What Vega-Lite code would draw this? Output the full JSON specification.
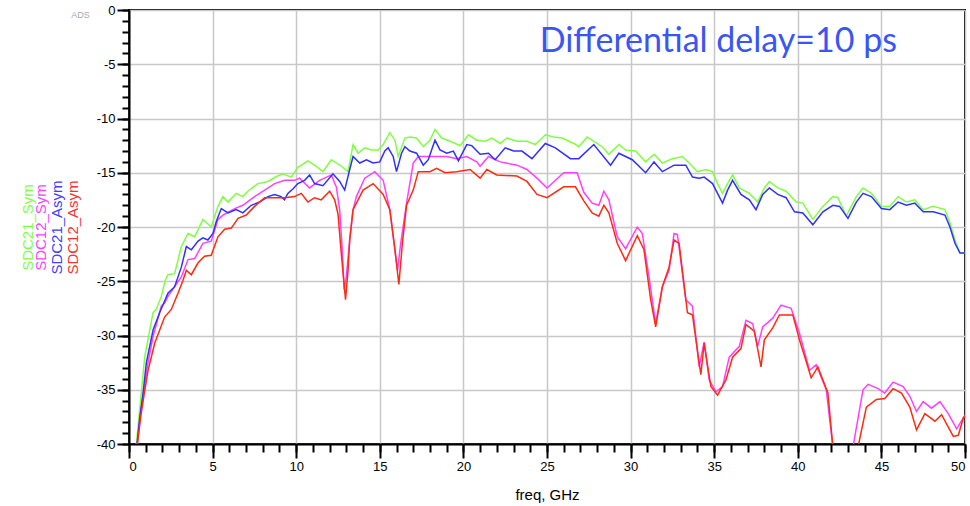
{
  "$schema": "https://vega.github.io/schema/vega-lite/v6.json",
  "width": 836,
  "height": 434,
  "autosize": {"type": "none"},
  "padding": {"left": 129, "top": 10, "right": 5, "bottom": 62},
  "background": "white",
  "config": {
    "font": "Liberation Sans",
    "view": {"stroke": "black", "strokeWidth": 2},
    "axis": {"ticks": true, "tickColor": "#000000", "tickOpacity": 1}
  },
  "title": {
    "text": "Differential delay=10 ps",
    "anchor": "end",
    "frame": "group",
    "orient": "top",
    "offset": 0,
    "dx": -68,
    "dy": 82,
    "baseline": "alphabetic",
    "font": "Lato",
    "fontSize": 34,
    "fontWeight": "normal",
    "color": "#3a55f5"
  },
  "datasets": {
    "sdc21_sym": [
      {"f":0.44,"db":-40},{"f":0.94,"db":-32.0},{"f":1.24,"db":-29.5},{"f":1.44,"db":-27.9},{"f":1.63,"db":-27.6},{"f":1.93,"db":-26.4},{"f":2.17,"db":-24.9},{"f":2.33,"db":-24.4},{"f":2.73,"db":-24.3},{"f":3.13,"db":-21.8},{"f":3.53,"db":-20.6},{"f":3.93,"db":-20.9},{"f":4.42,"db":-19.3},{"f":4.92,"db":-20.0},{"f":5.32,"db":-18.1},{"f":5.62,"db":-17.2},{"f":5.92,"db":-17.7},{"f":6.41,"db":-16.9},{"f":6.81,"db":-17.2},{"f":7.11,"db":-16.7},{"f":7.71,"db":-16.0},{"f":8.31,"db":-15.8},{"f":8.81,"db":-15.35},{"f":9.21,"db":-15.1},{"f":9.7,"db":-15.4},{"f":10.1,"db":-14.5},{"f":10.7,"db":-13.9},{"f":11.1,"db":-14.3},{"f":11.6,"db":-14.9},{"f":12.1,"db":-13.8},{"f":12.7,"db":-14.4},{"f":13.1,"db":-14.9},{"f":13.4,"db":-12.4},{"f":13.7,"db":-13.2},{"f":14.1,"db":-12.7},{"f":14.5,"db":-12.9},{"f":14.9,"db":-12.9},{"f":15.2,"db":-12.4},{"f":15.6,"db":-11.3},{"f":15.9,"db":-12.0},{"f":16.1,"db":-13.5},{"f":16.5,"db":-11.8},{"f":16.8,"db":-11.7},{"f":17.2,"db":-11.8},{"f":17.6,"db":-12.6},{"f":18.0,"db":-12.0},{"f":18.3,"db":-11.0},{"f":18.7,"db":-11.8},{"f":19.2,"db":-12.1},{"f":19.8,"db":-12.5},{"f":20.3,"db":-11.5},{"f":20.8,"db":-12.0},{"f":21.3,"db":-12.1},{"f":21.7,"db":-11.8},{"f":22.2,"db":-12.3},{"f":22.6,"db":-11.8},{"f":23.2,"db":-12.1},{"f":23.8,"db":-12.1},{"f":24.3,"db":-12.4},{"f":24.9,"db":-11.5},{"f":25.4,"db":-11.7},{"f":25.9,"db":-11.8},{"f":26.6,"db":-12.3},{"f":26.9,"db":-12.6},{"f":27.4,"db":-11.7},{"f":27.8,"db":-12.1},{"f":28.3,"db":-12.6},{"f":28.7,"db":-13.3},{"f":29.3,"db":-12.4},{"f":29.7,"db":-12.9},{"f":30.3,"db":-13.0},{"f":30.9,"db":-14.0},{"f":31.4,"db":-13.3},{"f":31.9,"db":-14.1},{"f":32.5,"db":-13.7},{"f":33.1,"db":-13.5},{"f":33.5,"db":-14.1},{"f":34.0,"db":-14.9},{"f":34.5,"db":-14.7},{"f":34.9,"db":-14.9},{"f":35.2,"db":-16.0},{"f":35.5,"db":-16.9},{"f":35.8,"db":-16.0},{"f":36.1,"db":-15.2},{"f":36.5,"db":-16.4},{"f":37.1,"db":-16.9},{"f":37.6,"db":-17.7},{"f":38.0,"db":-16.4},{"f":38.3,"db":-15.8},{"f":38.8,"db":-16.4},{"f":39.3,"db":-16.7},{"f":39.9,"db":-17.7},{"f":40.3,"db":-17.8},{"f":40.9,"db":-19.3},{"f":41.5,"db":-18.1},{"f":42.1,"db":-17.2},{"f":42.4,"db":-17.3},{"f":42.9,"db":-19.0},{"f":43.5,"db":-17.2},{"f":43.9,"db":-16.4},{"f":44.4,"db":-16.9},{"f":45.0,"db":-18.1},{"f":45.5,"db":-18.1},{"f":46.0,"db":-17.2},{"f":46.5,"db":-17.7},{"f":47.0,"db":-17.5},{"f":47.5,"db":-18.4},{"f":48.1,"db":-18.1},{"f":48.8,"db":-18.4},{"f":49.1,"db":-19.6},{"f":49.4,"db":-21.2},{"f":49.7,"db":-22.4},{"f":50.0,"db":-22.4}
    ],
    "sdc21_asym": [
      {"f":0.48,"db":-40},{"f":0.63,"db":-37.8},{"f":0.84,"db":-35.3},{"f":1.04,"db":-32.5},{"f":1.44,"db":-29.5},{"f":1.83,"db":-27.9},{"f":2.33,"db":-26.1},{"f":2.73,"db":-25.5},{"f":3.13,"db":-23.7},{"f":3.43,"db":-21.8},{"f":3.73,"db":-22.1},{"f":4.13,"db":-21.3},{"f":4.42,"db":-21.0},{"f":4.72,"db":-21.2},{"f":5.02,"db":-20.6},{"f":5.22,"db":-19.5},{"f":5.52,"db":-18.3},{"f":5.92,"db":-18.7},{"f":6.41,"db":-18.4},{"f":6.81,"db":-18.7},{"f":7.31,"db":-18.0},{"f":7.81,"db":-17.7},{"f":8.31,"db":-17.2},{"f":8.71,"db":-17.0},{"f":9.1,"db":-17.2},{"f":9.3,"db":-17.5},{"f":9.5,"db":-16.9},{"f":9.8,"db":-16.5},{"f":10.1,"db":-16.0},{"f":10.5,"db":-15.7},{"f":10.8,"db":-15.2},{"f":11.1,"db":-16.0},{"f":11.6,"db":-16.2},{"f":12.2,"db":-15.1},{"f":12.6,"db":-15.8},{"f":12.9,"db":-16.6},{"f":13.2,"db":-14.7},{"f":13.4,"db":-13.5},{"f":13.8,"db":-14.1},{"f":14.2,"db":-13.8},{"f":14.6,"db":-14.1},{"f":15.0,"db":-14.0},{"f":15.3,"db":-13.0},{"f":15.5,"db":-12.7},{"f":15.8,"db":-13.5},{"f":16.0,"db":-14.9},{"f":16.3,"db":-13.2},{"f":16.5,"db":-12.6},{"f":16.8,"db":-13.0},{"f":17.2,"db":-13.2},{"f":17.6,"db":-14.3},{"f":17.9,"db":-13.8},{"f":18.3,"db":-12.0},{"f":18.6,"db":-12.9},{"f":19.0,"db":-13.2},{"f":19.4,"db":-13.0},{"f":19.7,"db":-13.9},{"f":20.2,"db":-12.4},{"f":20.5,"db":-12.5},{"f":21.0,"db":-13.3},{"f":21.5,"db":-13.2},{"f":21.9,"db":-13.8},{"f":22.5,"db":-12.7},{"f":23.0,"db":-13.0},{"f":23.5,"db":-13.0},{"f":24.1,"db":-13.7},{"f":24.9,"db":-12.3},{"f":25.5,"db":-12.7},{"f":26.4,"db":-13.7},{"f":26.9,"db":-13.7},{"f":27.8,"db":-12.4},{"f":28.8,"db":-14.3},{"f":29.3,"db":-13.2},{"f":30.1,"db":-13.8},{"f":30.9,"db":-15.0},{"f":31.4,"db":-14.0},{"f":31.9,"db":-14.9},{"f":32.6,"db":-14.3},{"f":33.3,"db":-14.3},{"f":33.7,"db":-15.4},{"f":34.1,"db":-15.5},{"f":34.4,"db":-15.4},{"f":34.9,"db":-16.0},{"f":35.2,"db":-16.9},{"f":35.5,"db":-17.8},{"f":35.8,"db":-16.6},{"f":36.1,"db":-15.7},{"f":36.6,"db":-17.0},{"f":37.1,"db":-17.5},{"f":37.5,"db":-18.4},{"f":37.9,"db":-17.0},{"f":38.3,"db":-16.4},{"f":38.8,"db":-17.0},{"f":39.3,"db":-17.3},{"f":39.8,"db":-18.6},{"f":40.3,"db":-18.7},{"f":40.9,"db":-19.8},{"f":41.5,"db":-18.6},{"f":42.1,"db":-18.0},{"f":42.5,"db":-18.1},{"f":43.0,"db":-19.2},{"f":43.5,"db":-17.7},{"f":43.9,"db":-16.9},{"f":44.4,"db":-17.2},{"f":45.0,"db":-18.3},{"f":45.5,"db":-18.4},{"f":46.0,"db":-17.7},{"f":46.5,"db":-18.0},{"f":47.0,"db":-17.8},{"f":47.5,"db":-18.6},{"f":48.1,"db":-18.6},{"f":48.8,"db":-18.9},{"f":49.1,"db":-20.0},{"f":49.4,"db":-21.5},{"f":49.7,"db":-22.4},{"f":50.0,"db":-22.4}
    ],
    "sdc12_sym": [
      {"f":0.5,"db":-40},{"f":0.7,"db":-37.0},{"f":0.9,"db":-35.0},{"f":1.1,"db":-32.8},{"f":1.44,"db":-30.1},{"f":1.93,"db":-27.3},{"f":2.13,"db":-27.0},{"f":2.33,"db":-26.4},{"f":2.73,"db":-25.5},{"f":3.13,"db":-24.6},{"f":3.53,"db":-23.0},{"f":3.93,"db":-22.9},{"f":4.42,"db":-21.5},{"f":4.92,"db":-21.3},{"f":5.32,"db":-19.3},{"f":5.62,"db":-18.9},{"f":6.32,"db":-18.3},{"f":6.81,"db":-18.0},{"f":7.51,"db":-17.2},{"f":8.11,"db":-16.6},{"f":8.71,"db":-16.0},{"f":9.31,"db":-15.7},{"f":9.9,"db":-15.7},{"f":10.2,"db":-15.5},{"f":10.8,"db":-16.4},{"f":11.4,"db":-15.7},{"f":12.1,"db":-15.2},{"f":12.4,"db":-16.3},{"f":12.6,"db":-18.4},{"f":12.75,"db":-22.0},{"f":12.87,"db":-25.8},{"f":13.0,"db":-24.5},{"f":13.2,"db":-21.2},{"f":13.4,"db":-18.4},{"f":13.6,"db":-17.2},{"f":14.1,"db":-15.5},{"f":14.7,"db":-14.9},{"f":15.2,"db":-15.7},{"f":15.6,"db":-18.4},{"f":15.85,"db":-21.5},{"f":16.06,"db":-24.0},{"f":16.25,"db":-21.5},{"f":16.6,"db":-17.8},{"f":17.0,"db":-14.1},{"f":17.3,"db":-13.5},{"f":17.8,"db":-13.5},{"f":18.4,"db":-13.5},{"f":19.0,"db":-13.5},{"f":19.6,"db":-13.7},{"f":20.2,"db":-13.5},{"f":20.8,"db":-14.0},{"f":21.0,"db":-14.4},{"f":21.5,"db":-13.5},{"f":22.2,"db":-14.0},{"f":23.2,"db":-14.3},{"f":23.8,"db":-14.7},{"f":24.4,"db":-15.5},{"f":25.0,"db":-16.4},{"f":26.0,"db":-15.0},{"f":26.8,"db":-15.0},{"f":27.2,"db":-16.8},{"f":27.7,"db":-17.8},{"f":28.1,"db":-18.0},{"f":28.4,"db":-16.7},{"f":28.7,"db":-17.5},{"f":29.2,"db":-20.9},{"f":29.7,"db":-22.0},{"f":30.4,"db":-20.0},{"f":30.7,"db":-20.6},{"f":31.1,"db":-24.6},{"f":31.5,"db":-28.9},{"f":31.9,"db":-25.5},{"f":32.3,"db":-24.0},{"f":32.6,"db":-20.6},{"f":32.8,"db":-20.7},{"f":33.3,"db":-26.7},{"f":33.7,"db":-27.3},{"f":34.1,"db":-32.9},{"f":34.4,"db":-30.6},{"f":34.7,"db":-34.1},{"f":35.1,"db":-35.2},{"f":35.5,"db":-34.7},{"f":35.9,"db":-32.0},{"f":36.5,"db":-31.0},{"f":36.9,"db":-28.6},{"f":37.3,"db":-28.9},{"f":37.6,"db":-31.0},{"f":37.9,"db":-29.2},{"f":38.5,"db":-28.4},{"f":39.0,"db":-27.2},{"f":39.6,"db":-27.5},{"f":40.1,"db":-29.8},{"f":40.7,"db":-33.2},{"f":41.1,"db":-32.7},{"f":41.7,"db":-35.0},{"f":42.1,"db":-40.3},{"f":42.6,"db":-44},{"f":43.0,"db":-44},{"f":43.3,"db":-40.3},{"f":43.9,"db":-35.0},{"f":44.2,"db":-34.5},{"f":44.8,"db":-34.9},{"f":45.2,"db":-35.3},{"f":45.7,"db":-34.3},{"f":46.3,"db":-34.7},{"f":46.7,"db":-35.6},{"f":47.1,"db":-37.0},{"f":47.5,"db":-36.1},{"f":48.0,"db":-36.7},{"f":48.5,"db":-36.1},{"f":49.0,"db":-37.2},{"f":49.5,"db":-38.6},{"f":49.9,"db":-37.6},{"f":50.0,"db":-37.4}
    ],
    "sdc12_asym": [
      {"f":0.5,"db":-40},{"f":0.7,"db":-37.5},{"f":0.9,"db":-35.5},{"f":1.14,"db":-33.2},{"f":1.54,"db":-30.7},{"f":2.13,"db":-28.3},{"f":2.53,"db":-27.6},{"f":2.93,"db":-26.1},{"f":3.23,"db":-24.9},{"f":3.43,"db":-24.0},{"f":3.73,"db":-24.4},{"f":4.13,"db":-23.3},{"f":4.52,"db":-22.7},{"f":4.92,"db":-22.6},{"f":5.32,"db":-20.9},{"f":5.72,"db":-20.2},{"f":6.12,"db":-20.1},{"f":6.52,"db":-19.2},{"f":7.01,"db":-18.9},{"f":7.51,"db":-18.1},{"f":8.11,"db":-17.3},{"f":8.51,"db":-17.3},{"f":9.31,"db":-17.3},{"f":9.9,"db":-17.2},{"f":10.3,"db":-16.9},{"f":10.7,"db":-17.7},{"f":11.1,"db":-17.3},{"f":11.5,"db":-17.5},{"f":12.0,"db":-16.7},{"f":12.3,"db":-17.5},{"f":12.5,"db":-18.8},{"f":12.7,"db":-22.5},{"f":12.95,"db":-26.7},{"f":13.1,"db":-24.0},{"f":13.2,"db":-21.2},{"f":13.4,"db":-18.4},{"f":14.0,"db":-16.6},{"f":14.6,"db":-16.0},{"f":15.2,"db":-17.0},{"f":15.6,"db":-18.4},{"f":15.9,"db":-22.0},{"f":16.14,"db":-25.3},{"f":16.35,"db":-21.5},{"f":16.6,"db":-18.0},{"f":17.0,"db":-16.6},{"f":17.3,"db":-14.9},{"f":18.0,"db":-14.9},{"f":18.4,"db":-14.6},{"f":18.9,"db":-15.0},{"f":19.6,"db":-14.9},{"f":20.4,"db":-14.7},{"f":21.0,"db":-15.5},{"f":21.4,"db":-14.7},{"f":22.0,"db":-15.2},{"f":23.2,"db":-15.3},{"f":23.8,"db":-15.8},{"f":24.4,"db":-17.0},{"f":25.0,"db":-17.3},{"f":26.0,"db":-16.3},{"f":26.7,"db":-16.3},{"f":27.2,"db":-17.6},{"f":27.7,"db":-18.7},{"f":28.1,"db":-19.0},{"f":28.4,"db":-18.0},{"f":28.7,"db":-18.7},{"f":29.2,"db":-21.5},{"f":29.7,"db":-23.1},{"f":30.4,"db":-20.8},{"f":30.8,"db":-22.1},{"f":31.2,"db":-26.7},{"f":31.5,"db":-29.2},{"f":31.9,"db":-25.5},{"f":32.3,"db":-23.7},{"f":32.6,"db":-21.2},{"f":32.9,"db":-21.5},{"f":33.4,"db":-27.9},{"f":33.7,"db":-28.1},{"f":34.2,"db":-33.6},{"f":34.4,"db":-30.7},{"f":34.8,"db":-34.7},{"f":35.2,"db":-35.5},{"f":35.7,"db":-34.1},{"f":36.1,"db":-32.0},{"f":36.6,"db":-31.2},{"f":36.9,"db":-29.0},{"f":37.4,"db":-29.6},{"f":37.8,"db":-32.9},{"f":38.0,"db":-30.4},{"f":38.5,"db":-29.3},{"f":38.9,"db":-28.1},{"f":39.7,"db":-28.1},{"f":40.1,"db":-30.4},{"f":40.8,"db":-33.9},{"f":41.2,"db":-32.9},{"f":41.8,"db":-35.3},{"f":42.1,"db":-40.3},{"f":42.7,"db":-44},{"f":43.2,"db":-44},{"f":43.6,"db":-40.3},{"f":44.1,"db":-36.6},{"f":44.7,"db":-35.9},{"f":45.2,"db":-35.8},{"f":45.7,"db":-34.9},{"f":46.2,"db":-35.3},{"f":46.7,"db":-36.6},{"f":47.1,"db":-38.7},{"f":47.6,"db":-37.2},{"f":48.2,"db":-37.9},{"f":48.6,"db":-37.3},{"f":49.3,"db":-39.3},{"f":49.6,"db":-39.2},{"f":49.9,"db":-37.6},{"f":50.0,"db":-37.4}
    ]
  },
  "layer": [
    {
      "data": {"name": "sdc21_sym"},
      "mark": {"type": "line", "color": "#80ff40", "strokeWidth": 1.5, "clip": true},
      "encoding": {
        "x": {"field": "f", "type": "quantitative", "scale": {"domain": [0, 50], "nice": false}, "axis": null},
        "y": {"field": "db", "type": "quantitative", "scale": {"domain": [-40, 0], "nice": false},
          "axis": {"orient": "left", "labels": false, "ticks": false, "grid": false, "domainOpacity": 0, "title": "SDC21_Sym", "titleColor": "#80ff40", "titleFontSize": 15, "titleFontWeight": "normal", "titlePadding": 94}}
      }
    },
    {
      "data": {"name": "sdc12_sym"},
      "mark": {"type": "line", "color": "#ff40ff", "strokeWidth": 1.5, "clip": true},
      "encoding": {
        "x": {"field": "f", "type": "quantitative", "scale": {"domain": [0, 50], "nice": false}, "axis": null},
        "y": {"field": "db", "type": "quantitative", "scale": {"domain": [-40, 0], "nice": false},
          "axis": {"orient": "left", "labels": false, "ticks": false, "grid": false, "domainOpacity": 0, "title": "SDC12_Sym", "titleColor": "#ff40ff", "titleFontSize": 15, "titleFontWeight": "normal", "titlePadding": 81}}
      }
    },
    {
      "data": {"name": "sdc21_asym"},
      "mark": {"type": "line", "color": "#3030ff", "strokeWidth": 1.5, "clip": true},
      "encoding": {
        "x": {"field": "f", "type": "quantitative", "scale": {"domain": [0, 50], "nice": false}, "axis": null},
        "y": {"field": "db", "type": "quantitative", "scale": {"domain": [-40, 0], "nice": false},
          "axis": {"orient": "left", "labels": false, "ticks": false, "grid": false, "domainOpacity": 0, "title": "SDC21_Asym", "titleColor": "#4040ff", "titleFontSize": 15, "titleFontWeight": "normal", "titlePadding": 65}}
      }
    },
    {
      "data": {"name": "sdc12_asym"},
      "transform": [{"filter": "datum.f <= 42.7"}],
      "mark": {"type": "line", "color": "#ff2a10", "strokeWidth": 1.5, "clip": true},
      "encoding": {
        "x": {
          "field": "f",
          "type": "quantitative",
          "scale": {"domain": [0, 50], "nice": false},
          "axis": {
            "orient": "bottom",
            "values": [0,5,10,15,20,25,30,35,40,45,50],
            "labelFontSize": 13,
            "labelColor": "black",
            "labelPadding": 2,
            "ticks": true,
            "tickSize": 14,
            "tickColor": "#000000",
            "tickWidth": 2,
            "domainColor": "black",
            "domainWidth": 2,
            "grid": true,
            "gridColor": "#c8c8c8",
            "gridWidth": 1.5,
            "title": "freq, GHz",
            "titleFontSize": 15,
            "titleFontWeight": "normal",
            "titleColor": "black",
            "titlePadding": 14
          }
        },
        "y": {"field": "db", "type": "quantitative", "scale": {"domain": [-40, 0], "nice": false},
          "axis": {
            "orient": "left",
            "values": [-40,-35,-30,-25,-20,-15,-10,-5,0],
            "labelExpr": "replace(datum.label, '\u2212', '-')",
            "labelFontSize": 13,
            "labelColor": "black",
            "labelPadding": 2,
            "ticks": true,
            "tickSize": 12,
            "tickColor": "#000000",
            "tickWidth": 2,
            "domainColor": "black",
            "domainWidth": 2,
            "grid": true,
            "gridColor": "#c8c8c8",
            "gridWidth": 1.5,
            "title": "ADS",
            "titleAngle": 0,
            "titleAnchor": "end",
            "titleAlign": "right",
            "titleBaseline": "top",
            "titleFontSize": 9,
            "titleFontWeight": "normal",
            "titleColor": "#aaaaaa",
            "titlePadding": 7
          }
        }
      }
    },
    {
      "data": {"name": "sdc12_asym"},
      "transform": [{"filter": "datum.f >= 42.7"}],
      "mark": {"type": "line", "color": "#ff2a10", "strokeWidth": 1.5, "clip": true},
      "encoding": {
        "x": {
          "field": "f",
          "type": "quantitative",
          "scale": {"domain": [0, 50], "nice": false},
          "axis": {
            "orient": "bottom",
            "values": [0,1,2,3,4,5,6,7,8,9,10,11,12,13,14,15,16,17,18,19,20,21,22,23,24,25,26,27,28,29,30,31,32,33,34,35,36,37,38,39,40,41,42,43,44,45,46,47,48,49,50],
            "labels": false,
            "domain": false,
            "grid": false,
            "ticks": true,
            "tickSize": 8,
            "tickColor": "#000000",
            "tickWidth": 2,
            "title": null
          }
        },
        "y": {"field": "db", "type": "quantitative", "scale": {"domain": [-40, 0], "nice": false},
          "axis": {
            "orient": "left",
            "values": [-40,-39,-38,-37,-36,-35,-34,-33,-32,-31,-30,-29,-28,-27,-26,-25,-24,-23,-22,-21,-20,-19,-18,-17,-16,-15,-14,-13,-12,-11,-10,-9,-8,-7,-6,-5,-4,-3,-2,-1,0],
            "labels": false,
            "grid": false,
            "domainOpacity": 0,
            "ticks": true,
            "tickSize": 7,
            "tickColor": "#000000",
            "tickWidth": 2,
            "title": "SDC12_Asym",
            "titleColor": "#ff3030",
            "titleFontSize": 15,
            "titleFontWeight": "normal",
            "titlePadding": 41
          }
        }
      }
    }
  ],
  "resolve": {"scale": {"y": "independent"}, "axis": {"x": "independent", "y": "independent"}}
}
